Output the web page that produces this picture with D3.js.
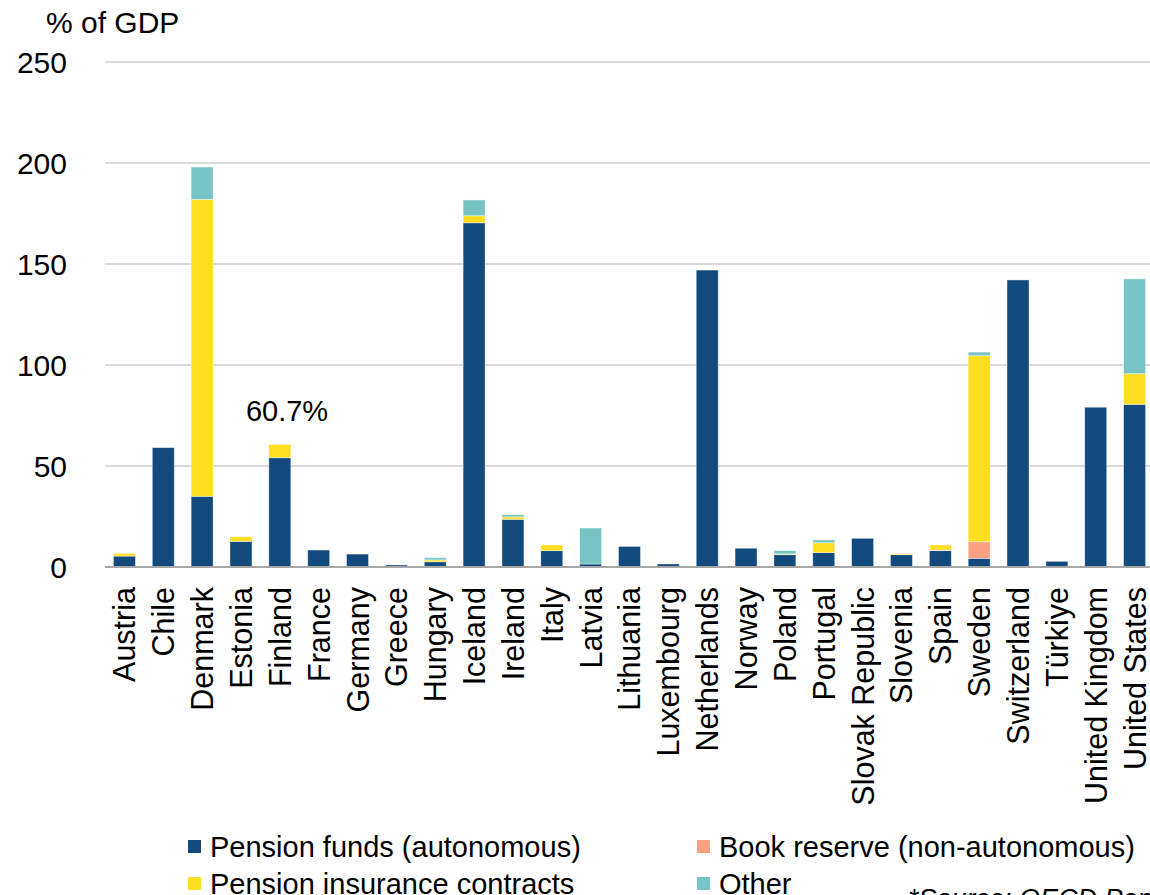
<!DOCTYPE html>
<html>
<head>
<meta charset="utf-8">
<script src="https://cdn.jsdelivr.net/npm/d3@7"></script>
<style>
  html, body { margin: 0; padding: 0; background: #fff; }
  svg { display: block; font-family: "Liberation Sans", Arial, sans-serif; }
</style>
</head>
<body>
<svg id="chart" width="1150" height="895"></svg>
<script>
const categories = ["Austria","Chile","Denmark","Estonia","Finland","France","Germany","Greece","Hungary","Iceland","Ireland","Italy","Latvia","Lithuania","Luxembourg","Netherlands","Norway","Poland","Portugal","Slovak Republic","Slovenia","Spain","Sweden","Switzerland","Türkiye","United Kingdom","United States"];
const pensionFunds = [5.4, 59.1, 35.0, 12.7, 54.1, 8.4, 6.4, 1.0, 2.6, 170.4, 23.6, 8.1, 1.5, 10.2, 1.5, 147.0, 9.3, 6.1, 7.1, 14.2, 6.1, 8.1, 4.3, 142.1, 2.8, 79.1, 80.5];
const bookReserve  = [0, 0, 0, 0, 0, 0, 0, 0, 0, 0, 0, 0, 0, 0, 0, 0, 0, 0, 0, 0, 0, 0.3, 8.2, 0, 0, 0, 0];
const insurance    = [1.3, 0, 147.0, 2.3, 6.6, 0, 0, 0, 0.9, 3.5, 1.2, 2.8, 0, 0, 0, 0, 0, 0.4, 4.9, 0, 0.5, 2.5, 92.1, 0, 0, 0, 15.2];
const other        = [0, 0, 16.0, 0, 0, 0, 0, 0, 1.1, 7.8, 1.1, 0, 17.8, 0, 0, 0, 0, 1.6, 1.4, 0, 0, 0, 1.8, 0, 0, 0, 46.9];
const seriesNames  = ["Pension funds (autonomous)", "Book reserve (non-autonomous)", "Pension insurance contracts", "Other"];
const seriesColors = ["#124A7E", "#FBA083", "#FFDE21", "#76C4C3"];
const yTicks = [0, 50, 100, 150, 200, 250];
const annotation = { category: "Finland", text: "60.7%" };

const keys = ["pf", "br", "ins", "oth"];
const table = categories.map((c, i) => ({ cat: c, pf: pensionFunds[i], br: bookReserve[i], ins: insurance[i], oth: other[i] }));
const stacked = d3.stack().keys(keys)(table);

const svg = d3.select("#chart");
const x = d3.scaleBand().domain(categories).range([105, 1154]).paddingInner(0.434).paddingOuter(0.217);
const y = d3.scaleLinear().domain([0, 250]).range([567, 62]);

// gridlines
svg.append("g").selectAll("line").data(yTicks.filter(t => t > 0)).join("line")
  .attr("x1", 105).attr("x2", 1150)
  .attr("y1", d => y(d)).attr("y2", d => y(d))
  .attr("stroke", "#d9d9d9").attr("stroke-width", 2);

// y tick labels
svg.append("g").selectAll("text").data(yTicks).join("text")
  .attr("x", 67).attr("y", d => y(d)).attr("dy", "0.35em")
  .attr("text-anchor", "end").attr("font-size", 30).attr("fill", "#000")
  .text(d => d);

// title
svg.append("text").attr("x", 46).attr("y", 33).attr("font-size", 30).attr("fill", "#000").text("% of GDP");

// bars
svg.append("g").selectAll("g").data(stacked).join("g")
  .attr("fill", (d, i) => seriesColors[i])
  .selectAll("rect").data(d => d.filter(p => p[1] - p[0] > 0)).join("rect")
  .attr("x", d => x(d.data.cat))
  .attr("width", x.bandwidth())
  .attr("y", d => y(d[1]))
  .attr("height", d => y(d[0]) - y(d[1]))
  .attr("stroke", "#ffffff").attr("stroke-opacity", 0.5).attr("stroke-width", 0.8);

// baseline
svg.append("line").attr("x1", 105).attr("x2", 1150).attr("y1", y(0)).attr("y2", y(0))
  .attr("stroke", "#a6a6a6").attr("stroke-width", 2);

// category labels
svg.append("g").selectAll("text").data(categories).join("text")
  .attr("transform", d => `translate(${x(d) + x.bandwidth() / 2},587) rotate(-90)`)
  .attr("dy", "0.36em").attr("text-anchor", "end")
  .attr("font-size", 30.5).attr("fill", "#000")
  .text(d => d);

// annotation
const ai = categories.indexOf(annotation.category);
svg.append("text").attr("x", 287).attr("y", 421).attr("text-anchor", "middle")
  .attr("font-size", 29).attr("fill", "#000").text(annotation.text);

// legend
const legendPos = [[188, 847], [697, 847], [188, 884], [697, 884]];
const lg = svg.append("g").selectAll("g").data(seriesNames).join("g")
  .attr("transform", (d, i) => `translate(${legendPos[i][0]},${legendPos[i][1]})`);
lg.append("rect").attr("x", 0).attr("y", -7).attr("width", 13).attr("height", 13)
  .attr("fill", (d, i) => seriesColors[i]);
lg.append("text").attr("x", 22).attr("y", 0).attr("dy", "0.35em")
  .attr("font-size", 29).attr("fill", "#000").text(d => d);

// source
svg.append("text").attr("x", 908).attr("y", 908).attr("font-size", 27).attr("font-style", "italic")
  .attr("fill", "#000").text("*Source: OECD Pension Markets in Focus");
</script>
</body>
</html>
